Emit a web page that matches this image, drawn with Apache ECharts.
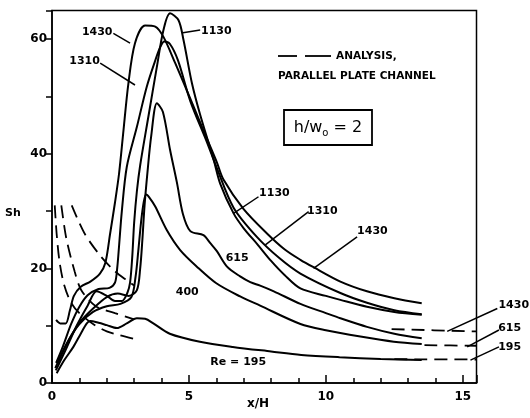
<!DOCTYPE html>
<html><head><meta charset="utf-8">
<script src="https://cdn.jsdelivr.net/npm/echarts@6/dist/echarts.min.js"></script>
<style>html,body{margin:0;padding:0;background:#fff}#c{width:530px;height:418px}</style>
</head><body><div id="c"></div><script>
// Experimental Sherwood number curves, x/H vs Sh, one per Reynolds number
const re195 = [[0.17,1.7],[0.45,4.0],[0.78,6.3],[1.05,8.6],[1.27,10.4],[1.4,10.8],[1.7,10.5],[2.0,10.1],[2.37,9.6],[2.73,10.4],[3.1,11.3],[3.4,11.2],[3.7,10.4],[4.3,8.6],[5.4,7.2],[6.6,6.3],[8.0,5.5],[9.1,4.9],[10.5,4.5],[12.0,4.2],[13.5,4.0]];
const re400 = [[0.2,3.4],[0.6,7.4],[1.0,10.3],[1.5,12.4],[2.0,13.4],[2.5,13.8],[2.9,15.0],[3.05,18.5],[3.15,23.0],[3.25,28.0],[3.35,31.6],[3.44,32.9],[3.55,32.4],[3.77,30.8],[4.19,26.7],[4.68,23.2],[5.29,20.3],[6.0,17.4],[6.87,15.1],[7.6,13.5],[9.07,10.3],[10.0,9.2],[11.26,8.1],[12.48,7.2],[13.5,6.8]];
const re615 = [[0.12,2.6],[0.5,6.5],[1.0,10.5],[1.5,13.0],[2.0,15.0],[2.4,15.6],[2.8,15.2],[3.1,16.2],[3.22,20.0],[3.3,25.0],[3.38,31.0],[3.5,37.5],[3.62,43.0],[3.83,48.8],[4.05,47.3],[4.31,40.7],[4.56,35.0],[4.78,29.5],[5.05,26.5],[5.53,25.8],[5.78,24.4],[6.02,23.0],[6.39,20.3],[6.87,18.6],[7.24,17.6],[7.6,17.0],[8.1,16.0],[9.07,13.8],[10.0,12.2],[10.53,11.3],[11.5,9.8],[12.5,8.6],[13.5,7.8]];
const re1130 = [[0.14,2.2],[0.5,5.8],[0.9,10.0],[1.3,13.5],[1.63,16.0],[2.0,15.2],[2.3,14.3],[2.55,14.3],[2.75,15.7],[2.85,17.5],[2.93,22.0],[3.0,28.0],[3.1,33.5],[3.22,38.0],[3.52,46.5],[3.83,55.2],[4.07,61.6],[4.31,64.5],[4.62,63.3],[4.8,59.9],[5.11,52.3],[5.41,46.8],[5.9,39.0],[6.14,34.8],[6.63,29.6],[7.0,27.0],[7.5,24.2],[8.0,21.3],[8.5,18.8],[9.07,16.5],[10.0,15.2],[10.53,14.5],[11.5,13.3],[12.5,12.4],[13.5,11.9]];
const re1310 = [[0.15,3.5],[0.4,6.4],[0.7,10.3],[1.0,13.3],[1.3,15.3],[1.7,16.4],[2.1,16.6],[2.3,17.5],[2.38,20.0],[2.45,24.0],[2.55,30.0],[2.73,37.7],[3.1,44.7],[3.46,51.7],[3.75,56.0],[3.95,58.6],[4.1,59.6],[4.3,59.2],[4.6,56.3],[5.05,49.2],[5.66,42.0],[6.02,37.5],[6.63,30.6],[7.48,25.5],[8.3,21.8],[9.07,19.1],[10.53,15.7],[11.5,14.0],[12.5,12.7],[13.5,12.0]];
const re1430 = [[0.15,11.0],[0.3,10.4],[0.5,10.4],[0.65,12.6],[0.8,15.2],[1.05,16.8],[1.4,17.7],[1.75,19.1],[1.95,21.0],[2.12,26.0],[2.3,31.5],[2.45,36.6],[2.6,43.6],[2.79,52.3],[3.03,59.3],[3.4,62.4],[3.77,62.2],[4.07,60.4],[4.5,55.8],[5.05,49.6],[5.66,42.6],[6.02,38.5],[6.26,35.5],[6.99,30.4],[7.85,26.1],[8.5,23.3],[9.07,21.5],[9.55,20.2],[10.53,17.7],[11.5,16.0],[12.5,14.8],[13.5,13.9]];
// Analysis (parallel plate channel), dashed
const an1430 = [[0.72,31],[1.2,26],[1.8,22],[2.3,19.5],[2.7,18],[3.0,17]];
const an615 = [[0.34,31],[0.52,25.3],[0.83,19.4],[1.07,16.2],[1.6,13.4],[2.3,12.2],[3.0,11.1]];
const an195 = [[0.1,31],[0.17,26],[0.28,21],[0.45,17],[0.7,14],[1.0,12.2],[1.5,10.3],[2.0,9.0],[2.5,8.3],[3.0,7.7]];
const fd1430 = [[12.4,9.4],[15.5,9.0]];
const fd615 = [[13.6,6.6],[15.5,6.5]];
const fd195 = [[12.5,4.15],[15.5,4.1]];
// Tick labels
const xTickLabels = [0, 5, 10, 15];
const yTickLabels = [0, 20, 40, 60];
// Curve labels (text, label centre in data units, leader start, leader end)
const notes = [
  {t:'1430', at:[1.65,61.3], from:[2.24,61.0], to:[2.85,59.3]},
  {t:'1130', at:[6.0,61.4], from:[5.41,61.6], to:[4.78,61.1]},
  {t:'1310', at:[1.19,56.2], from:[1.76,55.8], to:[3.03,52.0]},
  {t:'1130', at:[8.12,33.2], from:[7.54,32.5], to:[6.63,29.6]},
  {t:'1310', at:[9.87,30.0], from:[9.37,29.9], to:[7.79,24.1]},
  {t:'1430', at:[11.7,26.5], from:[11.14,25.5], to:[9.55,20.0]},
  {t:'615', at:[6.76,21.8]},
  {t:'400', at:[4.94,15.9]},
  {t:'Re = 195', at:[6.8,3.7]},
  {t:'1430', at:[16.86,13.6], from:[16.26,13.0], to:[14.43,9.0]},
  {t:'615', at:[16.71,9.6], from:[16.32,9.25], to:[15.16,6.3]},
  {t:'195', at:[16.71,6.3], from:[16.32,6.3], to:[15.28,4.0]}
];

const FONT = '"DejaVu Sans", sans-serif';
const solid = (name, data) => ({name, type:'line', data, smooth:0.3, showSymbol:false, silent:true,
  lineStyle:{color:'#000', width:2}, z:3});
const dashed = (name, data) => ({name, type:'line', data, smooth:0.3, showSymbol:false, silent:true,
  lineStyle:{color:'#000', width:1.8, type:[13,7]}, z:2});

const chart = echarts.init(document.getElementById('c'), null, {renderer:'canvas'});
chart.setOption({
  animation:false,
  backgroundColor:'#fff',
  grid:{left:52, right:53.5, top:10.5, bottom:35, show:true, borderColor:'#000', borderWidth:1.5},
  xAxis:{type:'value', min:0, max:15.5, interval:5,
    axisLine:{lineStyle:{color:'#000', width:1.5}},
    axisTick:{inside:true, length:8, lineStyle:{color:'#000', width:1.5}},
    minorTick:{show:true, splitNumber:5, length:5, lineStyle:{color:'#000', width:1.5}},
    splitLine:{show:false},
    axisLabel:{color:'#000', fontSize:12, fontWeight:'bold', fontFamily:FONT, margin:8,
      formatter:v => xTickLabels.includes(v) ? String(v) : ''}},
  yAxis:{type:'value', min:0, max:65, interval:10,
    axisLine:{show:true, lineStyle:{color:'#000', width:1.5}},
    axisTick:{show:true, inside:false, length:6, lineStyle:{color:'#000', width:1.5}},
    splitLine:{show:false},
    axisLabel:{color:'#000', fontSize:12, fontWeight:'bold', fontFamily:FONT, margin:5,
      formatter:v => yTickLabels.includes(v) ? String(v) : ''}},
  series:[
    solid('195', re195), solid('400', re400), solid('615', re615),
    solid('1130', re1130), solid('1310', re1310), solid('1430', re1430),
    dashed('a1430', an1430), dashed('a615', an615), dashed('a195', an195),
    dashed('f1430', fd1430), dashed('f615', fd615), dashed('f195', fd195)
  ]
});

const P = p => chart.convertToPixel({gridIndex:0}, p);
const g = [];
notes.forEach(n => {
  const c = P(n.at);
  g.push({type:'text', x:c[0], y:c[1], z:10, silent:true,
    style:{text:n.t, fill:'#000', font:'bold 11px ' + FONT, align:'center', verticalAlign:'middle'}});
  if (n.from) {
    const a = P(n.from), b = P(n.to);
    g.push({type:'line', z:10, silent:true, shape:{x1:a[0], y1:a[1], x2:b[0], y2:b[1]},
      style:{stroke:'#000', lineWidth:1.5}});
  }
});
// legend / caption block
g.push({type:'line', silent:true, shape:{x1:278, y1:56, x2:297, y2:56}, style:{stroke:'#000', lineWidth:1.8}});
g.push({type:'line', silent:true, shape:{x1:305, y1:56, x2:331, y2:56}, style:{stroke:'#000', lineWidth:1.8}});
g.push({type:'text', silent:true, x:336, y:56, style:{text:'ANALYSIS,', fill:'#000', font:'bold 10.5px ' + FONT, align:'left', verticalAlign:'middle'}});
g.push({type:'text', silent:true, x:278, y:76, style:{text:'PARALLEL PLATE CHANNEL', fill:'#000', font:'bold 10.5px ' + FONT, align:'left', verticalAlign:'middle'}});
g.push({type:'rect', silent:true, shape:{x:284, y:110, width:88, height:35}, style:{fill:'#fff', stroke:'#000', lineWidth:1.8}});
g.push({type:'text', silent:true, x:328, y:128, style:{
  text:'{a|h/w}{s|o}{a| = 2}', fill:'#000', align:'center', verticalAlign:'middle',
  rich:{a:{font:'16px ' + FONT, fill:'#000'}, s:{font:'10px ' + FONT, fill:'#000', padding:[10,0,0,0]}}}});
// axis titles
g.push({type:'text', silent:true, x:13, y:213, style:{text:'Sh', fill:'#000', font:'bold 11px ' + FONT, align:'center', verticalAlign:'middle'}});
g.push({type:'text', silent:true, x:258, y:404, style:{text:'x/H', fill:'#000', font:'bold 12px ' + FONT, align:'center', verticalAlign:'middle'}});
chart.setOption({graphic:g});
</script></body></html>
